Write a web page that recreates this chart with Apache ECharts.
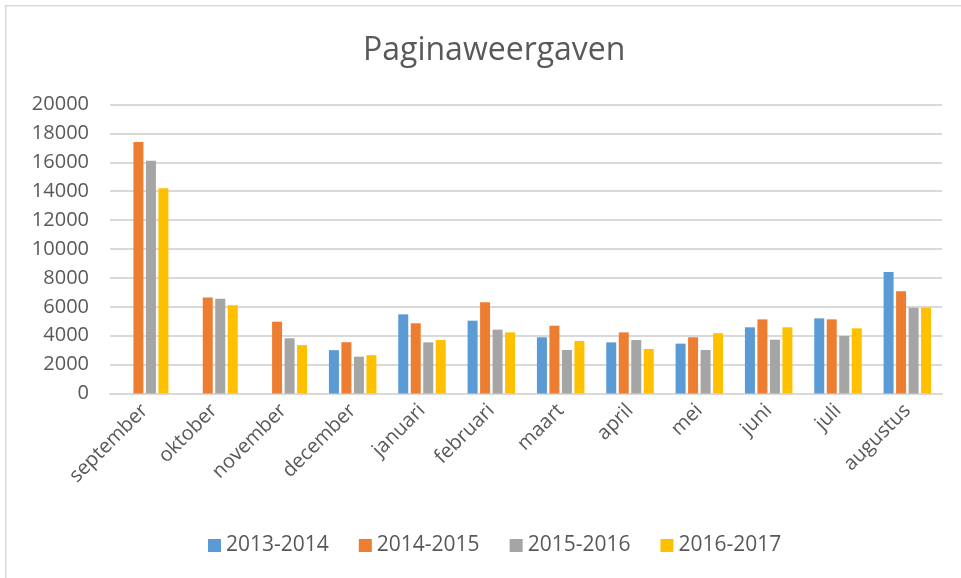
<!DOCTYPE html>
<html>
<head>
<meta charset="utf-8">
<script src="https://cdn.jsdelivr.net/npm/echarts@6/dist/echarts.min.js"></script>
<style>
html,body{margin:0;padding:0;background:#fff;}
#chart{width:961px;height:578px;}
</style>
</head>
<body>
<div id="chart"></div>
<script>
const categories = ['september','oktober','november','december','januari','februari','maart','april','mei','juni','juli','augustus'];
const seriesNames = ['2013-2014','2014-2015','2015-2016','2016-2017'];
const s2013_2014 = [null, null, null, 3000, 5480, 5040, 3890, 3540, 3450, 4580, 5200, 8410];
const s2014_2015 = [17400, 6650, 4970, 3550, 4860, 6310, 4690, 4230, 3890, 5130, 5130, 7070];
const s2015_2016 = [16100, 6550, 3820, 2550, 3540, 4420, 3010, 3700, 3010, 3720, 3980, 5940];
const s2016_2017 = [14200, 6100, 3350, 2650, 3700, 4230, 3630, 3080, 4170, 4580, 4510, 5940];
const yTicks = {min: 0, max: 20000, interval: 2000};

const colors = ['#5B9BD5', '#ED7D31', '#A5A5A5', '#FFC000'];
const allData = [s2013_2014, s2014_2015, s2015_2016, s2016_2017];
const FONT = '"Open Sans", "Liberation Sans", sans-serif';
const TXT = '#595959';

const chart = echarts.init(document.getElementById('chart'), null, {renderer: 'canvas'});
chart.setOption({
  animation: false,
  color: colors,
  graphic: [{
    type: 'rect', left: 5, top: 5, z: -10,
    shape: {x: 0, y: 0, width: 1200, height: 1200},
    style: {fill: '#fff', stroke: '#d9d9d9', lineWidth: 1.5}
  }],
  title: {
    text: 'Paginaweergaven',
    left: 358,
    top: 30,
    textStyle: {fontFamily: FONT, fontSize: 32, fontWeight: 'normal', color: TXT}
  },
  legend: {
    data: seriesNames,
    bottom: 17,
    left: 203,
    icon: 'rect',
    itemWidth: 13,
    itemHeight: 13,
    itemGap: 30,
    textStyle: {fontFamily: FONT, fontSize: 21, color: TXT}
  },
  grid: {left: 110, right: 19, top: 104.5, bottom: 184.5, containLabel: false},
  xAxis: {
    type: 'category',
    data: categories,
    axisLine: {lineStyle: {color: '#d9d9d9', width: 2}},
    axisTick: {show: false},
    axisLabel: {rotate: 45, margin: 14, fontFamily: FONT, fontSize: 20, color: TXT, interval: 0}
  },
  yAxis: {
    type: 'value',
    min: yTicks.min, max: yTicks.max, interval: yTicks.interval,
    axisLine: {show: false},
    axisTick: {show: false},
    splitLine: {lineStyle: {color: '#d9d9d9', width: 2}},
    axisLabel: {margin: 21, fontFamily: FONT, fontSize: 20, color: TXT, formatter: v => String(v)}
  },
  series: seriesNames.map((n, i) => ({
    name: n,
    type: 'bar',
    data: allData[i],
    barWidth: 10,
    barGap: '25%',
    itemStyle: {color: colors[i]}
  }))
});
</script>
</body>
</html>
